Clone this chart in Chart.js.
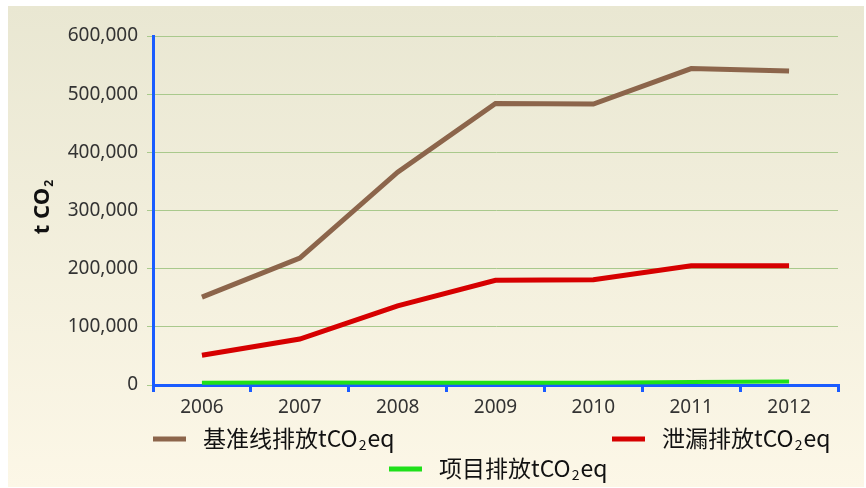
<!DOCTYPE html>
<html>
<head>
<meta charset="utf-8">
<script src="https://cdn.jsdelivr.net/npm/chart.js@4.4.1/dist/chart.umd.min.js"></script>
<style>
  html, body { margin: 0; padding: 0; background: #ffffff; }
  canvas { display: block; }
</style>
</head>
<body>
<canvas id="myChart" width="866" height="488"></canvas>
<script>
// data
const years = ['2006', '2007', '2008', '2009', '2010', '2011', '2012'];
const baseline = [151000, 218000, 366000, 484000, 483000, 544000, 540000];
const leakage = [51000, 79000, 136000, 180000, 181000, 205000, 205000];
const project = [4000, 4500, 4000, 4000, 4000, 5000, 6000];
const seriesLabels = ['基准线排放tCO₂eq', '泄漏排放tCO₂eq', '项目排放tCO₂eq'];
const yTicks = [0, 100000, 200000, 300000, 400000, 500000, 600000];

const BLUE = '#1a5cff';
const GRID = '#a9c98c';
const TEXT = '#333333';

// draws "abcCO₂eq" with a real subscript 2
function drawSubText(ctx, text, x, y, size, weight) {
    const parts = text.split('₂');
    ctx.textBaseline = 'middle';
    ctx.textAlign = 'left';
    let cx = x;
    parts.forEach((p, i) => {
        ctx.font = weight + ' ' + size + 'px "Noto Sans CJK SC", "Noto Sans", sans-serif';
        ctx.fillText(p, cx, y);
        cx += ctx.measureText(p).width;
        if (i < parts.length - 1) {
            const sub = Math.round(size * 0.6);
            ctx.font = weight + ' ' + sub + 'px "Noto Sans CJK SC", "Noto Sans", sans-serif';
            ctx.fillText('2', cx + 1, y + size * 0.3);
            cx += ctx.measureText('2').width + 2;
        }
    });
    return cx - x;
}

const panelPlugin = {
    id: 'panel',
    beforeDraw(chart) {
        const ctx = chart.ctx;
        const g = ctx.createLinearGradient(0, 6, 0, 487);
        g.addColorStop(0, '#e9e7d2');
        g.addColorStop(1, '#fcf7e7');
        ctx.save();
        ctx.fillStyle = g;
        ctx.fillRect(8, 6, 856, 481);
        ctx.restore();
    },
    afterDraw(chart) {
        const ctx = chart.ctx;
        ctx.save();
        ctx.fillStyle = '#111111';

        // y axis title, rotated
        ctx.save();
        ctx.translate(43, 206);
        ctx.rotate(-Math.PI / 2);
        ctx.font = 'bold 22px "Noto Sans", sans-serif';
        const w = ctx.measureText('t CO').width + 10;
        ctx.translate(-w / 2, 0);
        ctx.textBaseline = 'middle';
        ctx.fillText('t CO', 0, 0);
        const tw = ctx.measureText('t CO').width;
        ctx.font = 'bold 12px "Noto Sans", sans-serif';
        ctx.fillText('2', tw + 1, 7);
        ctx.restore();

        // legend
        const items = [
            { x: 153, y: 439 },
            { x: 612, y: 439 },
            { x: 389, y: 469 }
        ];
        chart.data.datasets.forEach((ds, i) => {
            const it = items[i];
            ctx.fillStyle = ds.borderColor;
            ctx.fillRect(it.x, it.y - 2.5, 33, 5);
            ctx.fillStyle = '#111111';
            drawSubText(ctx, ds.label, it.x + 50, it.y - 1, 23, 'normal');
        });
        ctx.restore();
    }
};

const ctx = document.getElementById('myChart').getContext('2d');
new Chart(ctx, {
    type: 'line',
    data: {
        labels: years,
        datasets: [
            { label: seriesLabels[0], data: baseline, borderColor: '#8c654b', borderWidth: 5 },
            { label: seriesLabels[1], data: leakage, borderColor: '#d60000', borderWidth: 5 },
            { label: seriesLabels[2], data: project, borderColor: '#1fe01a', borderWidth: 4 }
        ]
    },
    options: {
        responsive: false,
        animation: false,
        elements: {
            point: { radius: 0 },
            line: { tension: 0, fill: false }
        },
        layout: { padding: { top: 36, right: 28, bottom: 63, left: 0 } },
        plugins: {
            legend: { display: false },
            tooltip: { enabled: false }
        },
        scales: {
            x: {
                offset: true,
                afterFit: (s) => { s.height = 40; },
                grid: {
                    offset: true,
                    drawOnChartArea: false,
                    color: BLUE,
                    lineWidth: 3,
                    tickLength: 7
                },
                border: { color: BLUE, width: 3 },
                ticks: {
                    color: TEXT,
                    padding: 4,
                    font: { family: '"Noto Sans", sans-serif', size: 19 }
                }
            },
            y: {
                min: 0,
                max: 600000,
                afterFit: (s) => { s.width = 153; },
                afterBuildTicks: (s) => { s.ticks = yTicks.map(v => ({ value: v })); },
                grid: { color: GRID, lineWidth: 1, tickLength: 6 },
                border: { color: BLUE, width: 3 },
                ticks: {
                    color: TEXT,
                    padding: 9,
                    font: { family: '"Noto Sans", sans-serif', size: 19 },
                    callback: (v) => v.toLocaleString('en-US')
                }
            }
        }
    },
    plugins: [panelPlugin]
});
</script>
</body>
</html>
